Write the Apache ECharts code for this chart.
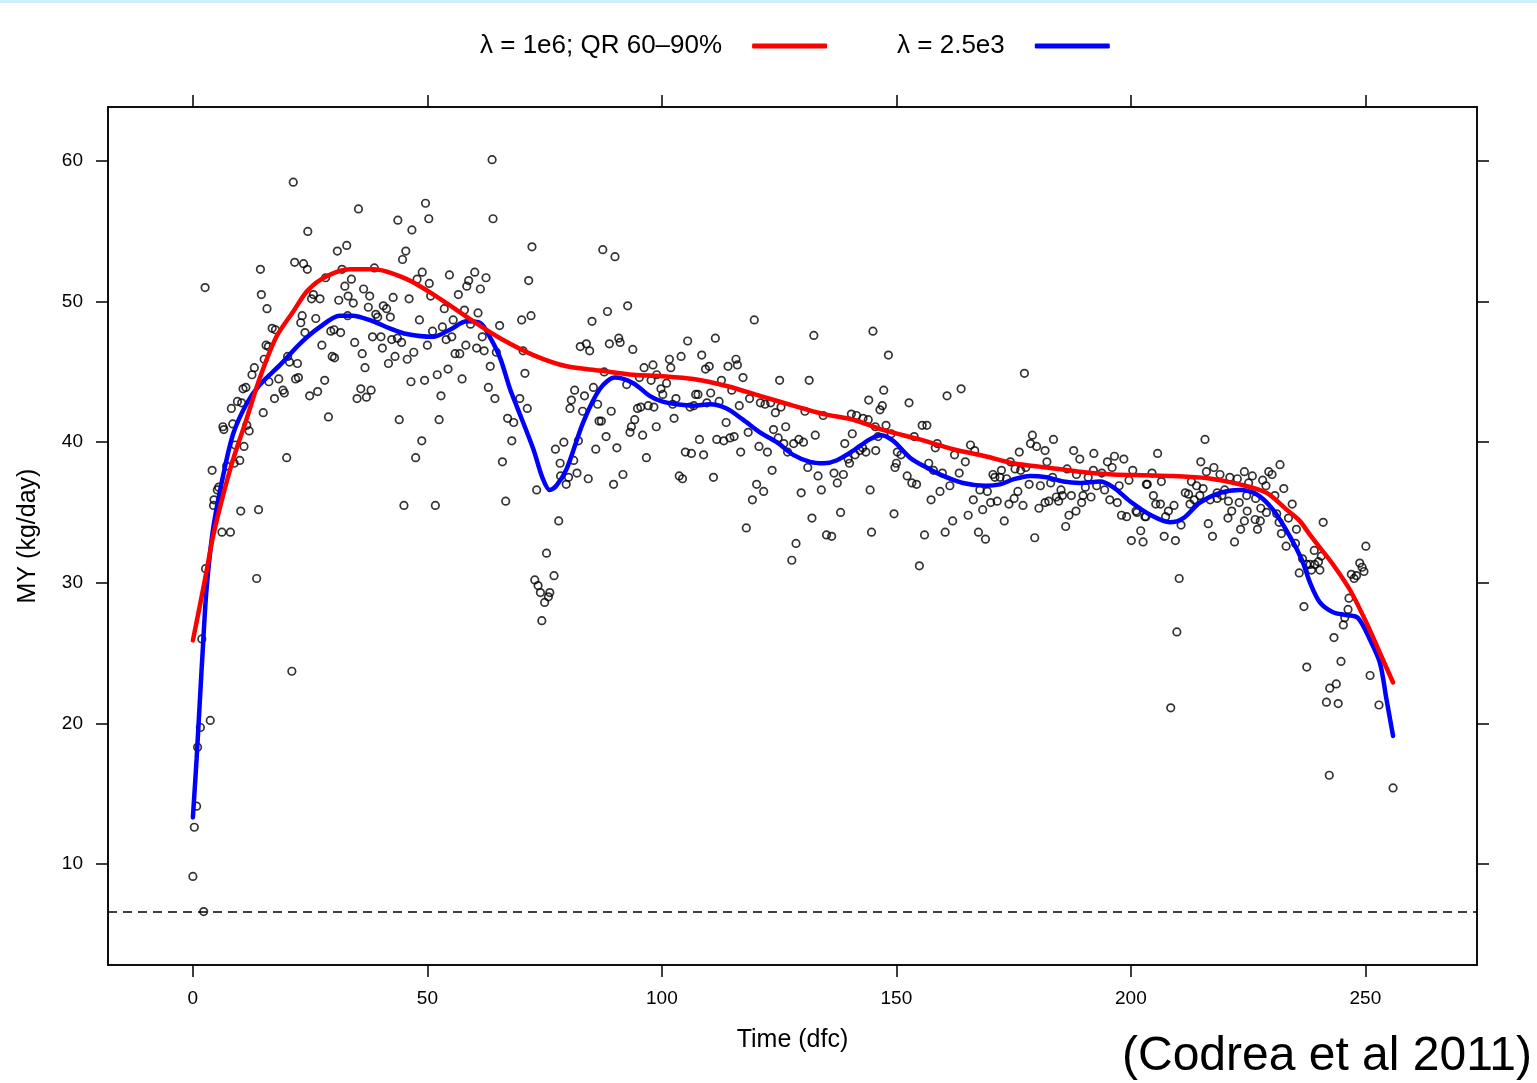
<!DOCTYPE html>
<html>
<head>
<meta charset="utf-8">
<script src="https://cdn.jsdelivr.net/npm/echarts@6/dist/echarts.min.js"></script>
<style>
html,body{margin:0;padding:0;background:#fff;}
#chart{width:1537px;height:1083px;}
</style>
</head>
<body>
<div id="chart"></div>
<script>
// ---- tick values ----
const xTicks = [0, 50, 100, 150, 200, 250];
const yTicks = [10, 20, 30, 40, 50, 60];
const referenceLevel = 6.6;

// ---- legend / series names ----
const redName = 'λ = 1e6; QR 60–90%';
const blueName = 'λ = 2.5e3';

// ---- observed milk yield [day, kg/day] ----
const obsEarly = [
[21.4,58.5],[24.5,55.0],[2.6,51.0],[14.4,52.3],[21.7,52.8],[23.6,52.7],[24.4,52.3],[30.8,53.6],[32.8,54.0],[14.6,50.5],
[15.8,49.5],[28.3,51.7],[31.8,52.3],[32.4,51.1],[33.1,50.4],[25.7,50.5],[27.1,50.2],[25.3,50.2],[31.1,50.1],[23.3,49.0],
[23.0,48.5],[26.2,48.8],[33.0,49.0],[16.9,48.1],[17.6,48.0],[23.9,47.8],[29.4,47.9],[30.1,48.0],[31.5,47.8],[15.6,46.9],
[16.1,46.8],[27.5,46.9],[15.2,45.9],[20.2,46.1],[20.6,45.7],[22.3,45.6],[29.7,46.1],[30.2,46.0],[13.1,45.3],[18.3,44.5],
[21.9,44.5],[22.5,44.6],[28.1,44.4],[12.6,44.8],[16.2,44.3],[11.3,43.9],[19.2,43.7],[19.5,43.5],[10.7,43.8],[26.6,43.6],
[24.9,43.3],[17.4,43.1],[28.9,41.8],[9.5,42.9],[10.4,42.8],[8.2,42.4],[15.0,42.1],[6.6,40.9],[6.4,41.1],[8.5,41.3],
[11.5,41.2],[12.0,40.8],[10.9,39.7],[10.0,38.7],[8.8,38.5],[20.0,38.9],[7.2,38.3],[4.1,38.0],[5.5,36.8],[5.2,36.6],
[4.5,35.9],[4.4,35.5],[10.2,35.1],[14.0,35.2],[6.2,33.6],[8.0,33.6],[13.6,30.3],[2.7,31.0],[1.9,26.0],[21.1,23.7],
[3.7,20.2],[1.6,19.7],[1.0,18.3],[0.8,14.1],[0.3,12.6],[0,9.1],[2.3,6.6],[9.0,39.8]
];
const obsPeak = [
[63.8,60.1],[35.3,56.6],[49.6,57.0],[50.3,55.9],[43.7,55.8],[64.0,55.9],[46.7,55.1],[45.4,53.6],[44.7,53.0],[38.7,52.4],
[48.9,52.1],[60.1,52.1],[33.8,51.6],[47.8,51.6],[54.7,51.9],[62.5,51.7],[58.8,51.5],[50.4,51.3],[58.4,51.1],[36.4,50.9],
[61.3,50.9],[37.7,50.4],[42.7,50.3],[46.1,50.2],[56.6,50.5],[50.7,50.4],[34.2,49.9],[37.4,49.6],[40.6,49.7],[41.3,49.5],
[53.6,49.5],[57.9,49.4],[60.8,49.2],[39.0,49.1],[39.4,48.9],[42.1,48.9],[48.3,48.7],[55.5,48.7],[59.2,48.4],[65.4,48.3],
[34.5,47.1],[38.3,47.5],[40.1,47.5],[42.4,47.3],[43.6,47.4],[44.5,47.1],[51.1,47.9],[53.2,48.2],[54.0,47.3],[55.2,47.5],
[61.7,47.5],[40.4,46.7],[50.0,46.9],[58.2,46.9],[60.5,46.7],[62.1,46.5],[64.7,46.4],[36.1,46.3],[43.1,46.1],[47.1,46.4],
[55.9,46.3],[56.9,46.3],[41.7,45.6],[45.7,45.9],[36.7,45.3],[63.4,45.4],[54.4,45.2],[52.1,44.8],[57.4,44.5],[46.5,44.3],
[49.4,44.4],[63.0,43.9],[35.8,43.8],[38.0,43.7],[35.0,43.1],[37.0,43.2],[52.9,43.3],[64.4,43.1],[44.0,41.6],[52.5,41.6],
[67.1,41.7],[48.8,40.1],[47.5,38.9],[66.0,38.6],[45.0,35.5],[51.7,35.5],[66.7,35.8]
];
const obsDip = [
[72.3,53.9],[87.4,53.7],[90.0,53.2],[71.6,51.5],[92.7,49.7],[88.4,49.3],[70.1,48.7],[72.1,49.0],[85.1,48.6],[82.6,46.8],
[83.9,47.0],[84.6,46.5],[88.8,47.0],[90.8,47.4],[91.1,47.1],[93.8,46.6],[70.4,46.5],[96.2,45.3],[98.1,45.5],[70.8,44.9],
[87.7,45.0],[95.2,44.6],[97.7,44.4],[98.9,44.8],[92.5,44.1],[85.4,43.9],[81.4,43.7],[99.8,43.8],[100.2,43.4],[83.5,43.3],
[80.7,43.0],[69.7,43.1],[80.4,42.4],[83.1,42.2],[86.3,42.7],[89.2,42.2],[94.8,42.4],[95.5,42.5],[97.1,42.6],[98.3,42.5],
[71.3,42.4],[68.4,41.4],[86.6,41.5],[87.1,41.5],[94.2,41.6],[93.5,41.1],[98.8,41.1],[93.2,40.7],[82.2,40.1],[88.1,40.4],
[95.9,40.5],[68.0,40.1],[77.3,39.5],[79.1,40.0],[85.9,39.5],[90.4,39.6],[96.7,38.9],[78.3,38.5],[81.2,38.7],[78.4,37.6],
[80.1,37.5],[81.9,37.8],[79.6,37.0],[84.3,37.4],[89.7,37.0],[91.7,37.7],[73.3,36.6],[78.0,34.4],[75.4,32.1],[77.0,30.5],
[72.9,30.2],[73.6,29.8],[74.1,29.3],[76.1,29.3],[75.8,29.0],[75.0,28.6],[74.4,27.3]
];
const obsMid = [
[119.7,48.7],[132.4,47.6],[105.5,47.2],[111.4,47.4],[101.6,45.9],[101.9,45.3],[104.1,46.1],[108.5,46.2],[109.3,45.2],[110.1,45.4],
[114.1,45.4],[115.8,45.9],[116.1,45.5],[117.3,44.6],[112.7,44.4],[101.0,44.2],[114.9,43.7],[125.1,44.4],[131.4,44.4],[103.0,43.1],
[107.2,43.4],[107.7,43.4],[110.4,43.5],[118.7,43.1],[106.0,42.5],[106.8,42.6],[102.3,42.7],[109.6,42.8],[112.2,42.9],[116.5,42.6],
[121.0,42.8],[122.0,42.7],[123.2,42.8],[125.4,42.5],[124.2,42.1],[130.5,42.2],[134.4,41.9],[102.6,41.7],[113.7,41.4],[118.4,40.7],
[123.8,40.9],[126.4,41.1],[132.7,40.5],[108.0,40.2],[111.7,40.2],[113.2,40.1],[114.5,40.3],[115.4,40.4],[120.7,39.7],[124.8,40.3],
[126.0,39.9],[128.1,39.9],[129.2,40.2],[130.2,40.0],[126.8,39.3],[105.0,39.3],[106.3,39.2],[108.9,39.1],[116.8,39.3],[122.5,39.3],
[131.1,38.2],[123.5,38.0],[133.3,37.6],[103.7,37.6],[104.4,37.4],[111.0,37.5],[120.2,37.0],[121.7,36.5],[129.7,36.4],[134.0,36.6],
[119.3,35.9],[132.0,34.6],[118.0,33.9],[135.1,33.4],[128.6,32.8],[127.7,31.6],
[145.0,47.9],[148.3,46.2],[147.3,43.7],[144.1,43.0],[146.5,42.3],[147.0,42.6],[152.7,42.8],[160.8,43.3],[163.8,43.8],[140.4,42.0],
[141.5,41.9],[142.9,41.7],[144.0,41.6],[145.5,41.1],[147.8,41.2],[155.5,41.2],[156.5,41.2],[140.6,40.6],[146.1,40.4],[148.9,40.6],
[153.8,40.4],[139.0,39.9],[158.7,39.9],[158.3,39.6],[165.8,39.8],[166.7,39.4],[141.2,39.1],[142.2,39.4],[142.8,39.6],[143.5,39.3],
[145.6,39.4],[150.2,39.3],[151.0,39.1],[162.4,39.1],[139.7,38.8],[140.0,38.5],[150.0,38.5],[149.7,38.2],[156.9,38.5],[164.7,38.6],
[136.7,37.8],[138.7,37.7],[152.3,37.6],[157.9,38.0],[159.8,37.8],[163.4,37.8],[137.4,37.1],[153.3,37.1],[154.3,37.0],[161.4,36.9],
[144.4,36.6],[159.3,36.5],[167.8,36.6],[157.4,35.9],[166.4,35.9],[138.1,35.0],[149.5,34.9],[168.4,35.2],[165.3,34.8],[162.0,34.4],
[144.7,33.6],[136.2,33.3],[156.0,33.4],[160.4,33.6],[167.5,33.6],[169.0,33.1],[154.9,31.2]
];
const obsLate = [
[177.3,44.9],[179.0,40.5],[178.6,39.9],[179.9,39.7],[183.5,40.2],[181.7,39.4],[187.8,39.4],[189.1,38.8],[192.1,39.2],[176.2,39.3],
[182.1,38.6],[195.0,38.6],[196.5,39.0],[198.5,38.8],[196.0,38.2],[174.3,38.6],[175.3,38.1],[176.5,38.0],[177.6,38.2],[172.4,38.0],
[170.6,37.7],[171.0,37.5],[172.1,37.5],[173.5,37.4],[186.4,38.1],[188.4,37.7],[192.0,38.0],[193.8,37.8],[200.4,38.0],[190.9,37.5],
[199.6,37.3],[183.3,37.5],[178.3,37.0],[180.7,36.9],[182.9,37.1],[190.3,36.8],[192.7,36.9],[194.4,36.6],[197.5,36.9],[203.3,37.0],
[169.4,36.5],[175.9,36.5],[185.1,36.6],[185.4,36.2],[187.3,36.2],[189.8,36.2],[191.5,36.1],[184.1,36.1],[175.1,36.0],[171.5,35.8],
[170.1,35.7],[174.0,35.6],[181.7,35.7],[182.5,35.8],[184.6,35.8],[189.5,35.7],[195.5,35.9],[197.1,35.7],[177.0,35.5],[180.4,35.3],
[188.3,35.1],[201.1,35.1],[201.3,35.0],[198.0,34.8],[199.1,34.7],[203.2,34.7],[186.8,34.8],[173.0,34.4],[186.1,34.0],[202.1,33.7],
[179.5,33.2],[200.1,33.0],[202.6,32.9],
[215.8,40.2],[205.7,39.2],[214.9,38.6],[231.8,38.4],[216.1,37.9],[217.7,38.2],[219.0,37.7],[221.1,37.5],[222.7,37.4],[224.2,37.9],
[225.9,37.6],[229.4,37.9],[230.1,37.7],[204.5,37.8],[203.5,37.0],[206.5,37.2],[212.9,37.2],[225.1,37.1],[228.1,37.3],[228.8,36.9],
[232.6,36.7],[214.0,36.9],[215.4,36.7],[220.0,36.6],[204.8,36.2],[211.6,36.4],[212.3,36.3],[214.7,36.2],[218.4,36.4],[218.4,36.0],
[219.4,36.2],[224.7,36.2],[230.7,36.2],[205.3,35.6],[206.3,35.6],[209.2,35.5],[212.6,35.6],[213.5,35.9],[216.9,35.9],[220.8,35.8],
[223.1,35.7],[226.6,36.0],[234.4,35.6],[227.7,35.3],[228.9,35.0],[231.1,34.9],[224.8,35.1],[221.5,35.1],[208.0,35.1],[203.0,34.7],
[207.4,34.7],[220.7,34.6],[224.2,34.4],[226.5,34.5],[227.6,34.4],[231.6,34.3],[233.6,34.6],[210.7,34.1],[216.5,34.2],[235.3,33.8],
[223.4,33.8],[227.0,33.8],[232.1,33.5],[207.1,33.3],[217.4,33.3],[209.5,33.0],[222.1,32.9],[233.1,32.6],[235.1,32.8],[236.6,31.7],
[237.5,31.3],[235.9,30.7],[210.3,30.3],[236.9,28.3],[209.8,26.5],[237.5,24.0],[208.5,21.1],
[241.0,34.3],[250.1,32.6],[239.1,32.3],[240.6,31.9],[238.2,31.3],[239.2,31.3],[240.0,31.5],[240.3,30.9],[238.5,30.9],[248.8,31.4],
[249.3,31.1],[249.7,30.8],[247.0,30.6],[247.6,30.3],[248.1,30.5],[246.5,28.9],[246.3,28.1],[245.6,27.5],[245.3,27.0],[243.3,26.1],
[244.8,24.4],[251.0,23.4],[242.4,22.5],[243.8,22.8],[241.7,21.5],[244.2,21.4],[252.9,21.3],[242.3,16.3],[255.9,15.4]
];

// ---- fitted curves [day, kg/day] ----
const fitRed = [
[0,25.9],[1.5,28.4],[2.9,30.8],[4.3,33.3],[6.5,36.3],[8.6,38.8],[11.4,41.6],[14.3,44.6],[17.8,47.5],[21.4,49.3],
[24.5,50.8],[28.5,51.8],[33.5,52.3],[38.4,52.3],[45.6,51.6],[52.7,50.2],[59.8,48.6],[65.5,47.4],[72.6,46.2],[79.7,45.4],
[86.8,45.1],[93.9,44.8],[100,44.7],[106.7,44.5],[113.8,44.0],[120.9,43.3],[128.0,42.6],[134.5,42.0],[140.8,41.6],[147.9,40.8],
[155.0,40.2],[162.1,39.5],[169,39.0],[174.9,38.5],[182,38.2],[189.1,37.9],[196.2,37.7],[203,37.65],[209,37.6],[216.1,37.45],
[223.2,37.0],[228.9,36.4],[233.2,35.2],[236,34.4],[238.2,33.4],[240.3,32.5],[243.1,31.3],[246.7,29.5],[250.3,27.1],[253.1,25.0],
[255.9,22.9]
];
const fitBlue = [
[0,13.3],[0.8,17.5],[1.5,21.7],[2.2,25.8],[2.9,29.5],[4.3,33.8],[6.5,37.7],[8.6,40.6],[11.4,42.7],[14.3,44.1],
[18.6,45.5],[22.8,47.0],[27.1,48.2],[31.3,49.0],[34,49.0],[38.4,48.6],[42,48.1],[45.6,47.7],[51.2,47.5],[54.8,48.0],
[58.4,48.6],[61.2,48.5],[63.3,47.5],[65.5,46.0],[67.6,43.8],[69.0,42.6],[72.6,39.5],[74.5,37.5],[76.1,36.6],[77.5,36.9],
[79.7,38.1],[83.2,41.4],[86.8,43.8],[90.0,44.6],[93.9,44.2],[97.4,43.3],[100,42.9],[103.1,42.7],[106.7,42.6],[110.2,42.7],
[113.8,42.4],[117.3,41.6],[120.9,40.7],[124.5,40.0],[128.0,39.1],[131.6,38.6],[134.5,38.5],[137.2,38.7],[140.8,39.4],[144.3,40.2],
[146.8,40.5],[149.3,40.1],[152.9,38.9],[156.4,38.2],[160.0,37.6],[164.2,37.1],[169,36.9],[172.1,37.0],[174.9,37.35],[178.5,37.6],
[182,37.5],[185.6,37.2],[189.1,37.1],[193.4,37.2],[196.2,36.8],[199.8,35.8],[204.3,34.8],[208.3,34.3],[211.2,34.6],[214.7,35.7],
[219.0,36.4],[223.2,36.6],[226.8,36.3],[230.3,35.2],[233.9,33.3],[236.5,31.6],[238.2,30.0],[240.3,28.6],[243.1,27.9],[245.9,27.7],
[248.4,27.5],[250.9,26.0],[253.1,24.3],[254.5,21.7],[255.9,19.1]
];

const observations = obsEarly.concat(obsPeak, obsDip, obsMid, obsLate);

const FONT = '"Liberation Sans", Arial, Helvetica, sans-serif';
const chart = echarts.init(document.getElementById('chart'), null, {renderer: 'canvas'});

const axisLine = {show: true, onZero: false, lineStyle: {color: '#000', width: 1.5}};
const tick = (vals) => ({show: true, inside: false, length: 12, customValues: vals, lineStyle: {color: '#000', width: 1.5}});

chart.setOption({
  backgroundColor: '#fff',
  animation: false,
  graphic: [
    {type: 'rect', left: 0, top: 0, shape: {width: 1537, height: 3}, style: {fill: '#cdeefc'}},
    {type: 'text', right: 5, bottom: 2, style: {text: '(Codrea et al 2011)', font: '48px ' + FONT, fill: '#000'}}
  ],
  legend: {
    data: [redName, blueName],
    left: 475, top: 28,
    align: 'right',
    icon: 'roundRect',
    itemWidth: 75, itemHeight: 5, itemGap: 70,
    textStyle: {fontFamily: FONT, fontSize: 26, color: '#000', padding: [0, 25, 0, 0]}
  },
  grid: {left: 108, right: 60, top: 107, bottom: 118, show: true, borderColor: '#000', borderWidth: 1.5, containLabel: false},
  xAxis: [
    {type: 'value', min: -18.1, max: 273.8, position: 'bottom',
     axisLine: axisLine, axisTick: tick(xTicks), splitLine: {show: false},
     axisLabel: {customValues: xTicks, margin: 24, fontSize: 19, fontFamily: FONT, color: '#000'},
     name: 'Time (dfc)', nameLocation: 'middle', nameGap: 63,
     nameTextStyle: {fontSize: 25, fontFamily: FONT, color: '#000'}},
    {type: 'value', min: -18.1, max: 273.8, position: 'top',
     axisLine: axisLine, axisTick: tick(xTicks), splitLine: {show: false}, axisLabel: {show: false}}
  ],
  yAxis: [
    {type: 'value', min: 2.8, max: 63.85, position: 'left',
     axisLine: axisLine, axisTick: tick(yTicks), splitLine: {show: false},
     axisLabel: {customValues: yTicks, margin: 25, fontSize: 19, fontFamily: FONT, color: '#000'},
     name: 'MY (kg/day)', nameLocation: 'middle', nameGap: 67,
     nameTextStyle: {fontSize: 25, fontFamily: FONT, color: '#000'}},
    {type: 'value', min: 2.8, max: 63.85, position: 'right',
     axisLine: axisLine, axisTick: tick(yTicks), splitLine: {show: false}, axisLabel: {show: false}}
  ],
  series: [
    {type: 'scatter', name: 'obs', data: observations, symbol: 'circle', symbolSize: 7.5, z: 2,
     itemStyle: {color: 'rgba(255,255,255,0)', borderColor: '#000', borderWidth: 1.7},
     markLine: {silent: true, symbol: 'none', label: {show: false},
       lineStyle: {color: '#000', width: 1.5, type: [9, 6]},
       data: [{yAxis: referenceLevel}]}},
    {type: 'line', name: blueName, data: fitBlue, color: '#0000ff', showSymbol: false, smooth: 0.3, z: 3,
     itemStyle: {color: '#0000ff'}, lineStyle: {color: '#0000ff', width: 4.5, cap: 'round'}},
    {type: 'line', name: redName, data: fitRed, color: '#ff0000', showSymbol: false, smooth: 0.3, z: 4,
     itemStyle: {color: '#ff0000'}, lineStyle: {color: '#ff0000', width: 4.5, cap: 'round'}}
  ]
});
</script>
</body>
</html>
